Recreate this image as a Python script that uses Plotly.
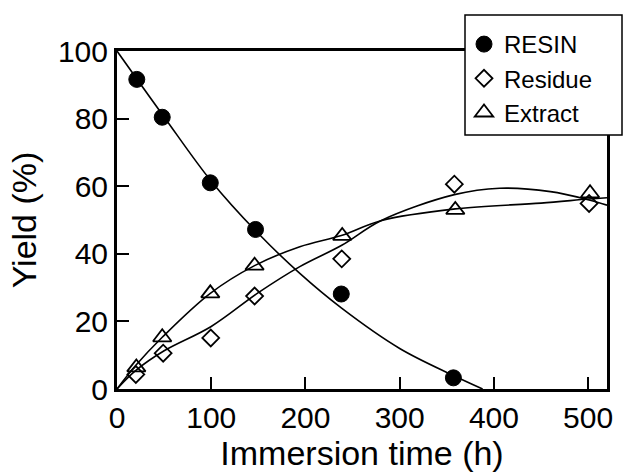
import plotly.graph_objects as go

# Measured data
time_resin = [21, 48, 99, 147, 238, 357]
yield_resin = [91.6, 80.4, 61.0, 47.2, 28.1, 3.3]

time_residue = [20, 49, 99.5, 146, 238.5, 358, 501]
yield_residue = [4.3, 10.6, 15.1, 27.5, 38.5, 60.6, 54.9]

time_extract = [20.5, 48, 99, 146, 239, 359, 502]
yield_extract = [6.4, 15.3, 28.3, 36.5, 45.3, 53.0, 57.9]

# Fitted curves
resin_fit_t = [0, 50, 100, 150, 194, 238, 300, 357, 388]
resin_fit_y = [100, 80.5, 61.5, 46, 34.2, 24, 12, 4, 0]

residue_fit_t = [0, 20, 50, 100, 150, 194, 239, 280, 358, 406, 460, 500, 520]
residue_fit_y = [0, 5.5, 11.3, 18.5, 28.5, 36.2, 42.6, 49.8, 57.5, 59.4, 58.4, 56, 54.4]

extract_fit_t = [0, 20, 48, 99, 146, 194, 239, 280, 359, 450, 500, 520]
extract_fit_y = [0, 7, 15.3, 28.3, 36.5, 42.1, 45.5, 49.8, 53.3, 55.0, 56.2, 56.6]

x_ticks = [0, 100, 200, 300, 400, 500]
y_ticks = [0, 20, 40, 60, 80, 100]

FONT = "Liberation Sans, Arial, sans-serif"
fig = go.Figure()

for t, y in [(resin_fit_t, resin_fit_y), (residue_fit_t, residue_fit_y), (extract_fit_t, extract_fit_y)]:
    fig.add_trace(go.Scatter(x=t, y=y, mode="lines", line=dict(color="black", width=1.6, shape="spline", smoothing=1),
                             showlegend=False, hoverinfo="skip"))

fig.add_trace(go.Scatter(x=time_resin, y=yield_resin, mode="markers", name="RESIN",
                         marker=dict(symbol="circle", size=16, color="black", line=dict(color="black", width=1))))
fig.add_trace(go.Scatter(x=time_residue, y=yield_residue, mode="markers", name="Residue",
                         marker=dict(symbol="diamond-open", size=13, color="black", line=dict(color="black", width=1.8))))
fig.add_trace(go.Scatter(x=time_extract, y=yield_extract, mode="markers", name="Extract",
                         marker=dict(symbol="triangle-up-open", size=16, color="black", line=dict(color="black", width=1.8))))

axis_common = dict(showgrid=False, zeroline=False, showline=True, linecolor="black", linewidth=3,
                   mirror=True, ticks="inside", ticklen=12, tickwidth=2, tickcolor="black",
                   tickfont=dict(family=FONT, size=30, color="black"))

fig.update_xaxes(range=[0, 520], tickvals=x_ticks, ticktext=[str(v) for v in x_ticks],
                 title=dict(text="Immersion time (h)", font=dict(family=FONT, size=34, color="black"), standoff=3),
                 **axis_common)
fig.update_yaxes(range=[0, 100], tickvals=y_ticks, ticktext=[str(v) for v in y_ticks],
                 title=dict(text="Yield (%)", font=dict(family=FONT, size=34, color="black"), standoff=12),
                 **axis_common)

# legend frame box (drawn as a shape so it can extend past the plot area)
L, R, T, B = 117, 607, 51, 389
PW, PH = R - L, B - T
fig.add_shape(type="rect", xref="paper", yref="paper",
              x0=(465 - L) / PW, x1=(622 - L) / PW, y0=(B - 135) / PH, y1=(B - 15) / PH,
              fillcolor="white", line=dict(color="black", width=1.5), layer="above")

fig.update_layout(
    width=624, height=472,
    margin=dict(l=L, r=624 - R, t=T, b=472 - B),
    plot_bgcolor="white", paper_bgcolor="white",
    font=dict(family=FONT, color="black"),
    legend=dict(x=(464 - L) / PW, y=(B - 22) / PH, xanchor="left", yanchor="top", bgcolor="rgba(0,0,0,0)",
                borderwidth=0, font=dict(family=FONT, size=24, color="black"),
                itemwidth=30, tracegroupgap=0),
)

fig.write_html("out.html")
